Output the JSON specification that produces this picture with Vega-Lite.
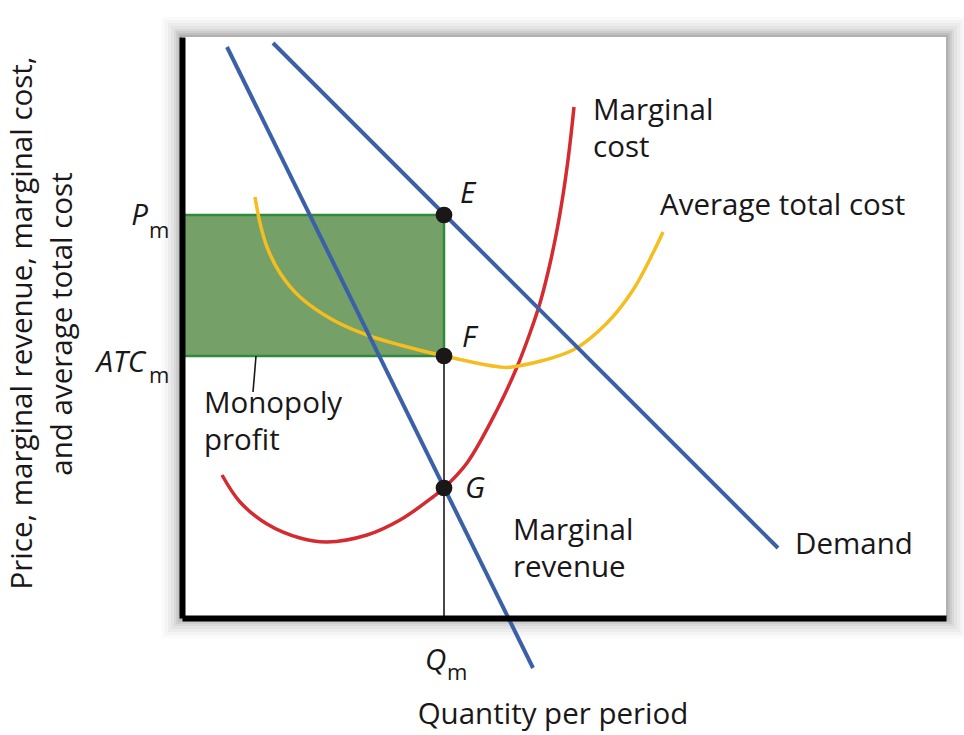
{
  "$schema": "https://vega.github.io/schema/vega-lite/v6.json",
  "width": 764,
  "height": 581,
  "autosize": "none",
  "padding": {"left": 182, "top": 37, "right": 18, "bottom": 117},
  "background": "white",
  "config": {"view": {"stroke": null}, "text": {"font": "Open Sans", "color": "#1a1718"}},
  "datasets": {
    "one": [{}],
    "mc": [
      {"q": 40, "v": 143}, {"q": 58, "v": 116}, {"q": 85, "v": 94}, {"q": 118, "v": 80},
      {"q": 145, "v": 76}, {"q": 185, "v": 83}, {"q": 218, "v": 98}, {"q": 251, "v": 121},
      {"q": 262, "v": 130}, {"q": 285, "v": 155}, {"q": 315, "v": 208}, {"q": 335, "v": 251},
      {"q": 348, "v": 285}, {"q": 358, "v": 315}, {"q": 367, "v": 350}, {"q": 375, "v": 388},
      {"q": 381, "v": 423}, {"q": 386, "v": 458}, {"q": 389, "v": 483}, {"q": 392, "v": 511}
    ],
    "atc": [
      {"q": 73, "v": 421}, {"q": 78, "v": 395}, {"q": 85, "v": 371}, {"q": 98, "v": 345},
      {"q": 118, "v": 321}, {"q": 151, "v": 298}, {"q": 185, "v": 283}, {"q": 218, "v": 273},
      {"q": 262, "v": 262}, {"q": 318, "v": 251}, {"q": 330, "v": 251}, {"q": 391, "v": 268},
      {"q": 425, "v": 295}, {"q": 451, "v": 328}, {"q": 471, "v": 365}, {"q": 481, "v": 386}
    ],
    "demand": [{"q": 91, "v": 575}, {"q": 596, "v": 70}],
    "mr": [{"q": 45, "v": 571}, {"q": 351, "v": -50}],
    "pts": [{"q": 262, "v": 403, "lab": "E"}, {"q": 262, "v": 262, "lab": "F"}, {"q": 262, "v": 130, "lab": "G"}],
    "labels": [
      {"q": 411, "v": 498, "t": "Marginal"}, {"q": 411, "v": 461, "t": "cost"},
      {"q": 478, "v": 403, "t": "Average total cost"},
      {"q": 331, "v": 78, "t": "Marginal"}, {"q": 331, "v": 41, "t": "revenue"},
      {"q": 613, "v": 64, "t": "Demand"},
      {"q": 22, "v": 205, "t": "Monopoly"}, {"q": 22, "v": 168, "t": "profit"}
    ],
    "italics": [
      {"q": 278, "v": 415, "t": "E"}, {"q": 280, "v": 271, "t": "F"}, {"q": 283, "v": 120, "t": "G"},
      {"q": 243, "v": -52, "t": "Q"}
    ],
    "italicsRight": [{"q": -34, "v": 393, "t": "P"}, {"q": -37, "v": 246, "t": "ATC"}],
    "subs": [{"q": -33, "v": 380, "t": "m"}, {"q": -33, "v": 235, "t": "m"}, {"q": 265, "v": -62, "t": "m"}]
  },
  "layer": [
    {"data": {"name": "one"}, "mark": {"type": "rect", "color": "black", "opacity": 0.02, "clip": false},
     "encoding": {"x": {"datum": -20, "type": "quantitative", "scale": {"domain": [0, 764], "nice": false, "zero": false},
        "axis": {"domainColor": "black", "domainWidth": 6, "ticks": false, "labels": false, "grid": false, "title": null, "zindex": 1}},
      "x2": {"datum": 784}, "y": {"datum": -20, "type": "quantitative", "scale": {"domain": [0, 581], "nice": false, "zero": false},
        "axis": {"domainColor": "black", "domainWidth": 6, "ticks": false, "labels": false, "grid": false, "title": null, "zindex": 1}},
      "y2": {"datum": 601}}},
    {"data": {"name": "one"}, "mark": {"type": "rect", "color": "black", "opacity": 0.025, "clip": false},
     "encoding": {"x": {"datum": -17}, "x2": {"datum": 781}, "y": {"datum": -17}, "y2": {"datum": 598}}},
    {"data": {"name": "one"}, "mark": {"type": "rect", "color": "black", "opacity": 0.03, "clip": false},
     "encoding": {"x": {"datum": -14}, "x2": {"datum": 778}, "y": {"datum": -14}, "y2": {"datum": 595}}},
    {"data": {"name": "one"}, "mark": {"type": "rect", "color": "black", "opacity": 0.035, "clip": false},
     "encoding": {"x": {"datum": -11}, "x2": {"datum": 775}, "y": {"datum": -11}, "y2": {"datum": 592}}},
    {"data": {"name": "one"}, "mark": {"type": "rect", "color": "black", "opacity": 0.045, "clip": false},
     "encoding": {"x": {"datum": -8}, "x2": {"datum": 772}, "y": {"datum": -8}, "y2": {"datum": 589}}},
    {"data": {"name": "one"}, "mark": {"type": "rect", "color": "black", "opacity": 0.055, "clip": false},
     "encoding": {"x": {"datum": -6}, "x2": {"datum": 770}, "y": {"datum": -6}, "y2": {"datum": 587}}},
    {"data": {"name": "one"}, "mark": {"type": "rect", "color": "black", "opacity": 0.065, "clip": false},
     "encoding": {"x": {"datum": -4}, "x2": {"datum": 768}, "y": {"datum": -4}, "y2": {"datum": 585}}},
    {"data": {"name": "one"}, "mark": {"type": "rect", "color": "black", "opacity": 0.075, "clip": false},
     "encoding": {"x": {"datum": -2}, "x2": {"datum": 766}, "y": {"datum": -2}, "y2": {"datum": 583}}},
    {"data": {"name": "one"}, "mark": {"type": "rect", "color": "white", "opacity": 1, "clip": false},
     "encoding": {"x": {"datum": 0}, "x2": {"datum": 764}, "y": {"datum": 0}, "y2": {"datum": 581}}},
    {"data": {"name": "one"}, "mark": {"type": "rect", "fill": "#75a068", "stroke": "#2f8a3a", "strokeWidth": 2.5, "opacity": 1},
     "encoding": {"x": {"datum": 0}, "x2": {"datum": 262}, "y": {"datum": 262}, "y2": {"datum": 403}}},
    {"data": {"name": "one"}, "mark": {"type": "rule", "color": "#1a1718", "strokeWidth": 1.6},
     "encoding": {"x": {"datum": 262}, "y": {"datum": 0}, "y2": {"datum": 262}}},
    {"data": {"name": "one"}, "mark": {"type": "rule", "color": "#1a1718", "strokeWidth": 1.6},
     "encoding": {"x": {"datum": 74}, "x2": {"datum": 71}, "y": {"datum": 262}, "y2": {"datum": 226}}},
    {"data": {"name": "mc"}, "mark": {"type": "line", "color": "#d42a30", "strokeWidth": 3.5, "interpolate": "catmull-rom", "clip": false},
     "encoding": {"x": {"field": "q", "type": "quantitative"}, "y": {"field": "v", "type": "quantitative"}}},
    {"data": {"name": "atc"}, "mark": {"type": "line", "color": "#f5bd1f", "strokeWidth": 3.5, "interpolate": "catmull-rom", "clip": false},
     "encoding": {"x": {"field": "q", "type": "quantitative"}, "y": {"field": "v", "type": "quantitative"}}},
    {"data": {"name": "demand"}, "mark": {"type": "line", "color": "#3a60a8", "strokeWidth": 4, "clip": false},
     "encoding": {"x": {"field": "q", "type": "quantitative"}, "y": {"field": "v", "type": "quantitative"}}},
    {"data": {"name": "mr"}, "mark": {"type": "line", "color": "#3a60a8", "strokeWidth": 4, "clip": false},
     "encoding": {"x": {"field": "q", "type": "quantitative"}, "y": {"field": "v", "type": "quantitative"}}},
    {"data": {"name": "pts"}, "mark": {"type": "circle", "color": "#1a1718", "opacity": 1, "size": 280},
     "encoding": {"x": {"field": "q", "type": "quantitative"}, "y": {"field": "v", "type": "quantitative"}}},
    {"data": {"name": "labels"}, "mark": {"type": "text", "fontSize": 29.5, "align": "left", "baseline": "alphabetic", "clip": false},
     "encoding": {"x": {"field": "q", "type": "quantitative"}, "y": {"field": "v", "type": "quantitative"}, "text": {"field": "t"}}},
    {"data": {"name": "italics"}, "mark": {"type": "text", "fontSize": 29.5, "fontStyle": "italic", "align": "left", "baseline": "alphabetic", "clip": false},
     "encoding": {"x": {"field": "q", "type": "quantitative"}, "y": {"field": "v", "type": "quantitative"}, "text": {"field": "t"}}},
    {"data": {"name": "italicsRight"}, "mark": {"type": "text", "fontSize": 29.5, "fontStyle": "italic", "align": "right", "baseline": "alphabetic", "clip": false},
     "encoding": {"x": {"field": "q", "type": "quantitative"}, "y": {"field": "v", "type": "quantitative"}, "text": {"field": "t"}}},
    {"data": {"name": "subs"}, "mark": {"type": "text", "fontSize": 22, "align": "left", "baseline": "alphabetic", "clip": false},
     "encoding": {"x": {"field": "q", "type": "quantitative"}, "y": {"field": "v", "type": "quantitative"}, "text": {"field": "t"}}},
    {"data": {"name": "one"}, "mark": {"type": "text", "fontSize": 29.5, "align": "center", "baseline": "alphabetic", "clip": false},
     "encoding": {"x": {"datum": 371}, "y": {"datum": -106}, "text": {"value": "Quantity per period"}}},
    {"data": {"name": "one"}, "mark": {"type": "text", "fontSize": 29.5, "align": "center", "baseline": "middle", "angle": 270, "clip": false},
     "encoding": {"x": {"datum": -159}, "y": {"datum": 295}, "text": {"value": "Price, marginal revenue, marginal cost,"}}},
    {"data": {"name": "one"}, "mark": {"type": "text", "fontSize": 29.5, "align": "center", "baseline": "middle", "angle": 270, "clip": false},
     "encoding": {"x": {"datum": -119}, "y": {"datum": 294}, "text": {"value": "and average total cost"}}}
  ]
}
